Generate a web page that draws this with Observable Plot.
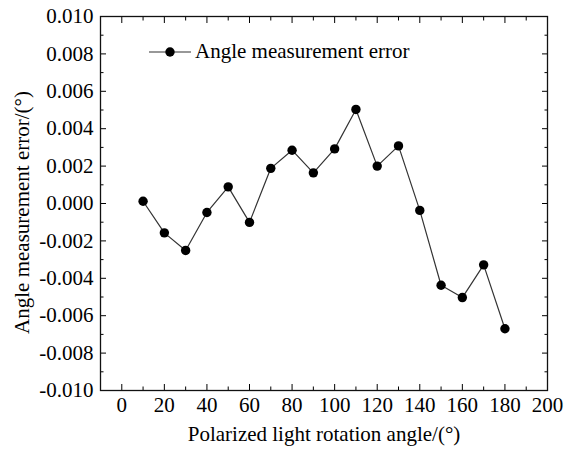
<!DOCTYPE html>
<html>
<head>
<meta charset="utf-8">
<script src="https://cdn.jsdelivr.net/npm/d3@7"></script>
<script src="https://cdn.jsdelivr.net/npm/@observablehq/plot@0.6"></script>
<style>
  body { margin: 0; background: #fff; }
  #wrap { position: relative; width: 573px; height: 450px; }
  #wrap svg, #wrap svg text { font-family: "Liberation Serif", "Times New Roman", serif !important; }
  #legend { position: absolute; left: 148px; top: 39px; display: flex; align-items: center;
            font-family: "Liberation Serif", "Times New Roman", serif; font-size: 21px; color: #000; }
  #legend span { margin-left: 3px; }
</style>
</head>
<body>
<div id="wrap"><div id="legend"></div></div>
<script>
// ---- data ----
const angles = [10, 20, 30, 40, 50, 60, 70, 80, 90, 100, 110, 120, 130, 140, 150, 160, 170, 180];
const errors = [0.00012, -0.00157, -0.00251, -0.00048, 0.00089, -0.00101, 0.00188, 0.00285, 0.00164, 0.00292,
                0.00503, 0.00200, 0.00308, -0.00037, -0.00437, -0.00503, -0.00328, -0.00670];
const xTicks = [0, 20, 40, 60, 80, 100, 120, 140, 160, 180, 200];
const xMinorTicks = [10, 30, 50, 70, 90, 110, 130, 150, 170, 190];
const yTicks = [-0.010, -0.008, -0.006, -0.004, -0.002, 0.000, 0.002, 0.004, 0.006, 0.008, 0.010];
const yMinorTicks = [-0.009, -0.007, -0.005, -0.003, -0.001, 0.001, 0.003, 0.005, 0.007, 0.009];
const seriesName = "Angle measurement error";
const xTitle = "Polarized light rotation angle/(°)";
const yTitle = "Angle measurement error/(°)";

const table = angles.map((a, i) => ({angle: a, error: errors[i]}));
const none = () => "";
const fs = 21;
const ff = "Liberation Serif";

const chart = Plot.plot({
  width: 573,
  height: 450,
  marginLeft: 100,
  marginRight: 26,
  marginTop: 16,
  marginBottom: 60,
  style: {fontFamily: ff, fontSize: "21px", color: "#000", background: "#fff"},
  x: {domain: [-10, 200]},
  y: {domain: [-0.010, 0.010]},
  marks: [
    // labels
    Plot.axisX(xTicks, {anchor: "bottom", tickSize: 0, tickPadding: 7, fontSize: fs, fontFamily: ff, tickFormat: d => String(d), label: null}),
    Plot.axisY(yTicks, {anchor: "left", tickSize: 0, tickPadding: 7, fontSize: fs, fontFamily: ff, tickFormat: d => d.toFixed(3), label: null}),
    // inward ticks, all four sides
    Plot.axisX(xTicks, {anchor: "bottom", tickSize: -6, tickFormat: none, label: null}),
    Plot.axisX(xMinorTicks, {anchor: "bottom", tickSize: -3.5, tickFormat: none, label: null}),
    Plot.axisX(xTicks, {anchor: "top", tickSize: -6, tickFormat: none, label: null}),
    Plot.axisX(xMinorTicks, {anchor: "top", tickSize: -3.5, tickFormat: none, label: null}),
    Plot.axisY(yTicks, {anchor: "left", tickSize: -6, tickFormat: none, label: null}),
    Plot.axisY(yMinorTicks, {anchor: "left", tickSize: -3.5, tickFormat: none, label: null}),
    Plot.axisY(yTicks, {anchor: "right", tickSize: -6, tickFormat: none, label: null}),
    Plot.axisY(yMinorTicks, {anchor: "right", tickSize: -3.5, tickFormat: none, label: null}),
    Plot.frame({stroke: "#111", strokeWidth: 1.3}),
    // data
    Plot.line(table, {x: "angle", y: "error", stroke: "#333", strokeWidth: 1.2}),
    Plot.dot(table, {x: "angle", y: "error", r: 4.7, fill: "#000", stroke: "none"}),
    // axis titles
    Plot.text([xTitle], {text: d => d, frameAnchor: "bottom", dy: 44, textAnchor: "middle", lineAnchor: "middle", fontSize: fs, fontFamily: ff, fill: "#000"}),
    Plot.text([yTitle], {text: d => d, frameAnchor: "left", dx: -78, dy: 9, rotate: -90, textAnchor: "middle", lineAnchor: "middle", fontSize: fs, fontFamily: ff, fill: "#000"})
  ]
});
document.getElementById("wrap").appendChild(chart);

// legend
const leg = document.getElementById("legend");
leg.innerHTML = `<svg width="44" height="20"><line x1="1" y1="10" x2="43" y2="10" stroke="#333" stroke-width="1.2"/><circle cx="22" cy="10" r="4.7" fill="#000"/></svg><span></span>`;
leg.querySelector("span").textContent = seriesName;
</script>
</body>
</html>
